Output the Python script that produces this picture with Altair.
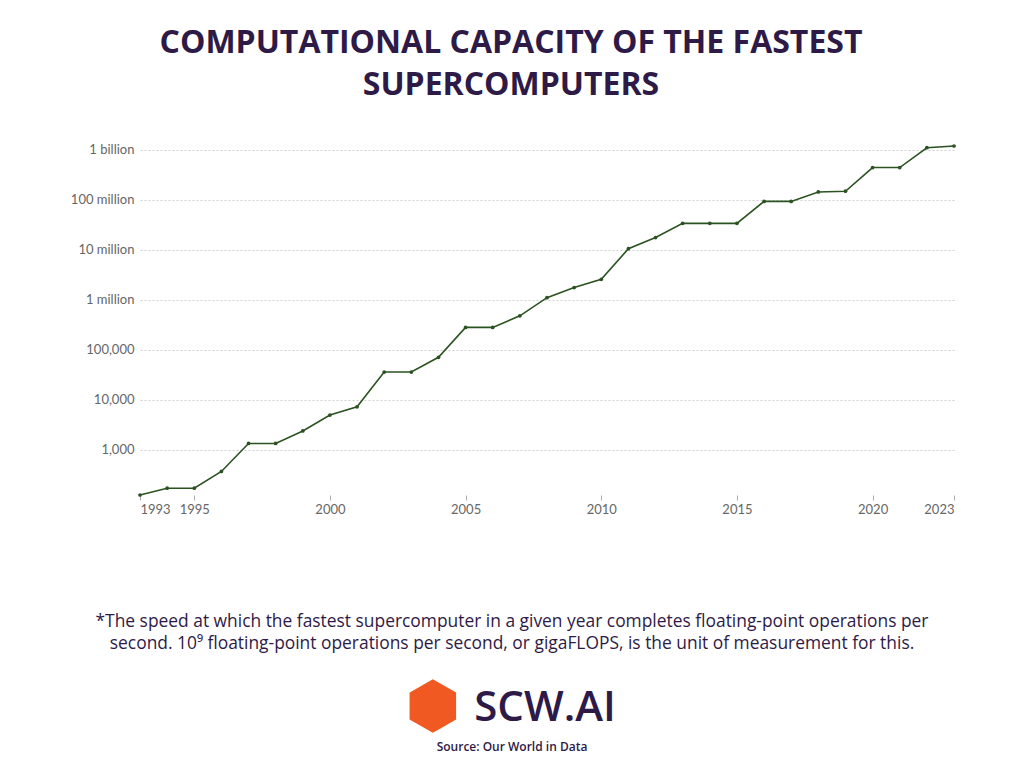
import altair as alt
import pandas as pd

years = list(range(1993, 2024))
gflops = [124.5, 170.4, 170.4, 368.2, 1338, 1338, 2379, 4938, 7226, 35860, 35860,
          70720, 280600, 280600, 478200, 1105000, 1759000, 2566000, 10510000,
          17590000, 33860000, 33860000, 33860000, 93010000, 93010000, 143500000,
          148600000, 442010000, 442010000, 1102000000, 1194000000]
x_ticks = [1993, 1995, 2000, 2005, 2010, 2015, 2020, 2023]
y_ticks = [1e3, 1e4, 1e5, 1e6, 1e7, 1e8, 1e9]

title_lines = ["COMPUTATIONAL CAPACITY OF THE FASTEST", "SUPERCOMPUTERS"]
note_lines = ["*The speed at which the fastest supercomputer in a given year completes floating-point operations per",
              "second. 10\u2079 floating-point operations per second, or gigaFLOPS, is the unit of measurement for this."]
brand = "SCW.AI"
source = "Source: Our World in Data"

df = pd.DataFrame({"year": years, "value": gflops})

PURPLE = "#2e1a47"
GREEN = "#2b5221"

x_enc = alt.X("year:Q", scale=alt.Scale(domain=[1993, 2023], nice=False, zero=False),
              axis=alt.Axis(values=x_ticks, format="d", title=None, grid=False, domain=False,
                            ticks=True, tickSize=5, tickColor="#aaaaaa", labelFlush=True,
                            labelPadding=3, labelFont="Lato", labelFontSize=13,
                            labelColor="#666666"))
y_enc = alt.Y("value:Q", scale=alt.Scale(type="log", domain=[124.5, 1194000000], nice=False),
              axis=alt.Axis(values=y_ticks, title=None, domain=False, ticks=False,
                            grid=True, gridColor="#d0d0d0", gridDash=[2, 2],
                            labelPadding=6, labelFont="Lato", labelFontSize=13,
                            labelColor="#666666",
                            labelExpr="datum.value >= 1e9 ? format(datum.value/1e9,'d') + ' billion' : datum.value >= 1e6 ? format(datum.value/1e6,'d') + ' million' : format(datum.value, ',')"))

line = alt.Chart(df).mark_line(color=GREEN, strokeWidth=1.6).encode(x=x_enc, y=y_enc)
pts = alt.Chart(df).mark_point(filled=True, color=GREEN, size=14, opacity=1).encode(x="year:Q", y="value:Q")


def txt(s, x, y, **kw):
    return alt.Chart(pd.DataFrame({"t": [s]})).mark_text(**kw).encode(
        text="t:N", x=alt.value(x), y=alt.value(y))


layers = [line, pts]
layers.append(txt(title_lines[0], 371, -103, font="Open Sans", fontSize=32, fontWeight=700,
                  color=PURPLE, align="center", baseline="middle"))
layers.append(txt(title_lines[1], 371, -61, font="Open Sans", fontSize=32, fontWeight=700,
                  color=PURPLE, align="center", baseline="middle"))
layers.append(txt(note_lines[0], 372, 476, font="Open Sans", fontSize=17.4,
                  color=PURPLE, align="center", baseline="middle"))
layers.append(txt(note_lines[1], 372, 498, font="Open Sans", fontSize=17.4,
                  color=PURPLE, align="center", baseline="middle"))
layers.append(txt("\u2b22", 293, 562, font="DejaVu Sans", fontSize=64,
                  color="#f05a22", align="center", baseline="middle"))
layers.append(txt(brand, 405, 562, font="Open Sans", fontSize=42, fontWeight=600,
                  color=PURPLE, align="center", baseline="middle"))
layers.append(txt(source, 372, 601, font="Open Sans", fontSize=12, fontWeight=600,
                  color=PURPLE, align="center", baseline="middle"))

chart = alt.layer(*layers).properties(
    width=814, height=349,
    autosize=alt.AutoSizeParams(type="none"),
    padding={"left": 132, "top": 138, "right": 62, "bottom": 265},
    background="white",
).configure_view(stroke=None)

chart.save("out.html", embed_options={"renderer": "svg", "actions": False})
